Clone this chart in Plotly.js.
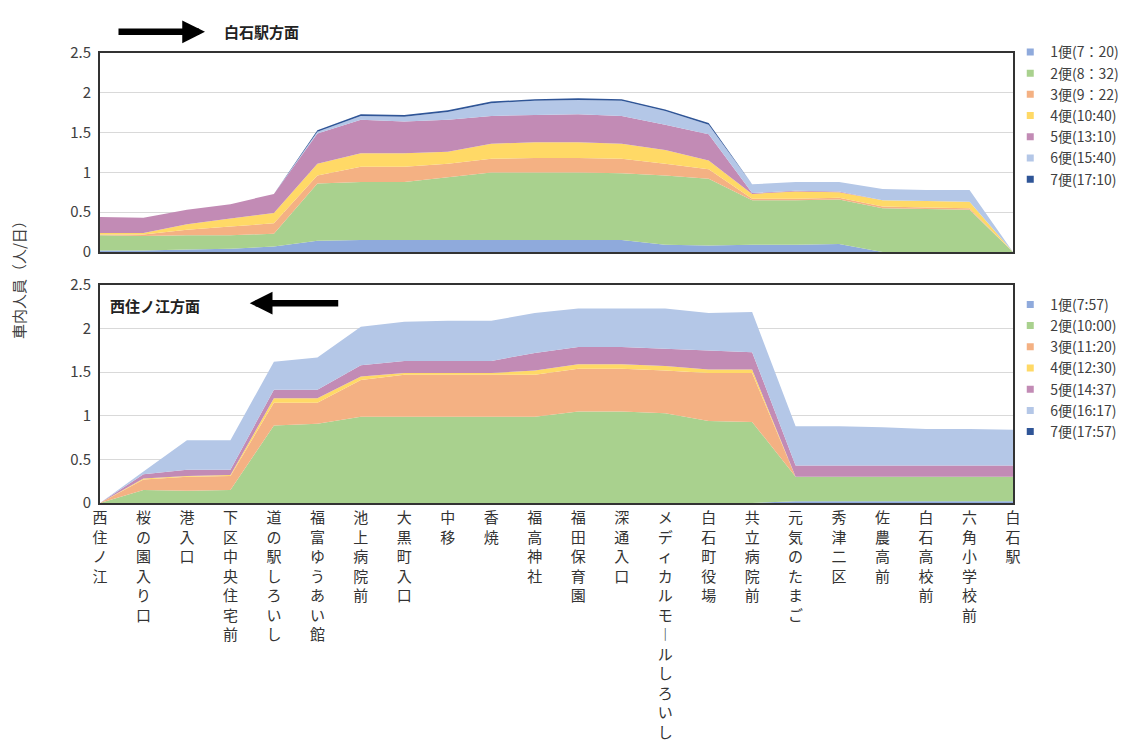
<!DOCTYPE html>
<html><head><meta charset="utf-8">
<script src="https://cdn.plot.ly/plotly-3.0.1.min.js"></script>
<style>body{margin:0;background:#fff}</style>
</head><body><div id="chart" style="width:1144px;height:756px"></div>
<script>
// Bus stops (categories)
const stops = ['西住ノ江','桜の園入り口','港入口','下区中央住宅前','道の駅しろいし','福富ゆうあい館','池上病院前','大黒町入口','中移','香焼','福高神社','福田保育園','深通入口','メディカルモールしろいし','白石町役場','共立病院前','元気のたまご','秀津二区','佐農高前','白石高校前','六角小学校前','白石駅'];

// Upper panel: 白石駅方面
const upNames = ['1便(7：20)','2便(8：32)','3便(9：22)','4便(10:40)','5便(13:10)','6便(15:40)','7便(17:10)'];
const up1 = [0.02,0.02,0.03,0.04,0.07,0.14,0.15,0.15,0.15,0.15,0.15,0.15,0.15,0.09,0.08,0.09,0.09,0.10,0,0,0,0];
const up2 = [0.19,0.18,0.18,0.17,0.16,0.72,0.73,0.73,0.79,0.85,0.85,0.85,0.84,0.87,0.84,0.56,0.56,0.56,0.55,0.54,0.53,0];
const up3 = [0.01,0.02,0.07,0.11,0.13,0.10,0.19,0.19,0.17,0.17,0.18,0.18,0.18,0.15,0.12,0.02,0.02,0.02,0.02,0.02,0.02,0];
const up4 = [0.02,0.02,0.07,0.10,0.13,0.15,0.17,0.17,0.15,0.19,0.20,0.20,0.19,0.17,0.11,0.06,0.09,0.07,0.08,0.08,0.08,0];
const up5 = [0.20,0.19,0.18,0.18,0.24,0.38,0.42,0.40,0.40,0.35,0.34,0.35,0.35,0.32,0.33,0.01,0.01,0.01,0,0,0,0];
const up6 = [0,0,0,0,0,0.02,0.05,0.06,0.10,0.16,0.18,0.18,0.19,0.17,0.12,0.11,0.11,0.12,0.14,0.14,0.15,0];
const up7 = [0,0,0,0,0,0.02,0.02,0.02,0.02,0.02,0.02,0.02,0.02,0.02,0.02,0,0,0,0,0,0,0];

// Lower panel: 西住ノ江方面
const dnNames = ['1便(7:57)','2便(10:00)','3便(11:20)','4便(12:30)','5便(14:37)','6便(16:17)','7便(17:57)'];
const dn1 = [0,0,0,0,0,0,0,0,0,0,0,0,0,0,0,0,0.02,0.02,0.02,0.02,0.02,0.02];
const dn2 = [0,0.15,0.14,0.15,0.89,0.91,0.99,0.99,0.99,0.99,0.99,1.05,1.05,1.03,0.94,0.93,0.28,0.28,0.28,0.28,0.28,0.28];
const dn3 = [0,0.12,0.16,0.16,0.26,0.24,0.42,0.48,0.48,0.48,0.48,0.49,0.49,0.49,0.55,0.56,0,0,0,0,0,0];
const dn4 = [0,0.01,0.01,0.01,0.05,0.05,0.04,0.02,0.02,0.02,0.05,0.05,0.05,0.05,0.04,0.04,0,0,0,0,0,0];
const dn5 = [0,0.05,0.07,0.06,0.10,0.10,0.13,0.14,0.14,0.14,0.20,0.20,0.20,0.20,0.22,0.20,0.13,0.13,0.13,0.13,0.13,0.13];
const dn6 = [0,0.03,0.34,0.34,0.32,0.37,0.44,0.45,0.46,0.46,0.46,0.44,0.44,0.46,0.43,0.46,0.45,0.45,0.44,0.42,0.42,0.41];
const dn7 = [0,0,0,0,0,0,0,0,0,0,0,0,0,0,0,0,0,0,0,0,0,0];

const yTicks = [0,0.5,1,1.5,2,2.5];
const colors = ['#8FAADC','#A9D18E','#F4B183','#FFD966','#C28BB5','#B4C7E7','#2F5597'];
const FONT = '"Noto Sans CJK JP", "Noto Sans", sans-serif';

const idx = stops.map((_, i) => i);
const upSeries = [up1,up2,up3,up4,up5,up6,up7];
const dnSeries = [dn1,dn2,dn3,dn4,dn5,dn6,dn7];

const traces = [];
upSeries.forEach((s, k) => {
  traces.push({x: idx, y: s, xaxis: 'x2', yaxis: 'y2', stackgroup: 'up', mode: 'none',
    fillcolor: colors[k], showlegend: false, hoverinfo: 'skip'});
});
dnSeries.forEach((s, k) => {
  traces.push({x: idx, y: s, xaxis: 'x', yaxis: 'y', stackgroup: 'dn', mode: 'none',
    fillcolor: colors[k], showlegend: false, hoverinfo: 'skip'});
});
// legend entries (square swatches)
upNames.forEach((n, k) => {
  traces.push({x: [null], y: [null], xaxis: 'x2', yaxis: 'y2', mode: 'markers', name: n,
    marker: {symbol: 'square', size: 7, color: colors[k]}, legend: 'legend'});
});
dnNames.forEach((n, k) => {
  traces.push({x: [null], y: [null], xaxis: 'x', yaxis: 'y', mode: 'markers', name: n,
    marker: {symbol: 'square', size: 7, color: colors[k]}, legend: 'legend2'});
});

const tickText = stops.map(s => Array.from(s.replace(/ー/g, '︱')).join('<br>'));

const yAxisCommon = {
  range: [0, 2.5], tickvals: yTicks, ticktext: yTicks.map(v => String(v)),
  showgrid: true, gridcolor: '#D9D9D9', gridwidth: 1,
  zeroline: false, showline: true, mirror: true, linecolor: '#333', linewidth: 2,
  ticks: '', tickfont: {family: FONT, size: 15, color: '#404040'}, ticklabelstandoff: 4
};

const legendCommon = {x: 0.997, xanchor: 'left', yanchor: 'top', traceorder: 'normal',
  font: {family: FONT, size: 14, color: '#404040'}, bgcolor: 'rgba(0,0,0,0)',
  itemwidth: 30, tracegroupgap: 0};

const layout = {
  width: 1144, height: 756,
  margin: {l: 100, r: 131, t: 53, b: 253},
  paper_bgcolor: '#fff', plot_bgcolor: '#fff',
  font: {family: FONT, color: '#333'},
  xaxis: {domain: [0, 1], anchor: 'y', range: [0, 21], tickvals: idx, ticktext: tickText,
    tickangle: 0, showgrid: false, zeroline: false, showline: true, mirror: true,
    linecolor: '#333', linewidth: 2, ticks: '',
    tickfont: {family: FONT, size: 15, color: '#333'}},
  yaxis: Object.assign({domain: [0, 0.4844], anchor: 'x'}, yAxisCommon),
  xaxis2: {domain: [0, 1], anchor: 'y2', range: [0, 21], showticklabels: false,
    showgrid: false, zeroline: false, showline: true, mirror: true,
    linecolor: '#333', linewidth: 2, ticks: ''},
  yaxis2: Object.assign({domain: [0.5578, 1], anchor: 'x2'}, yAxisCommon),
  legend: Object.assign({y: 1.037}, legendCommon),
  legend2: Object.assign({y: 0.476}, legendCommon),
  annotations: [
    {xref: 'paper', yref: 'paper', x: 0.115, y: 1.047, ax: -88, ay: 0, axref: 'pixel', ayref: 'pixel',
      text: '', showarrow: true, arrowhead: 2, arrowsize: 0.7, arrowwidth: 6.5, arrowcolor: '#000'},
    {xref: 'paper', yref: 'paper', x: 0.134, y: 1.047, xanchor: 'left', yanchor: 'middle',
      text: '<b>白石駅方面</b>', showarrow: false, font: {family: FONT, size: 15, color: '#222'}},
    {xref: 'paper', yref: 'paper', x: 0.0088, y: 0.44, xanchor: 'left', yanchor: 'middle',
      text: '<b>西住ノ江方面</b>', showarrow: false, font: {family: FONT, size: 15, color: '#222'}},
    {xref: 'paper', yref: 'paper', x: 0.164, y: 0.444, ax: 90, ay: 0, axref: 'pixel', ayref: 'pixel',
      text: '', showarrow: true, arrowhead: 2, arrowsize: 0.7, arrowwidth: 6.5, arrowcolor: '#000'},
    {xref: 'paper', yref: 'paper', x: -0.09, y: 0.504, xanchor: 'center', yanchor: 'middle',
      text: '車内人員（人/日）', textangle: -90, showarrow: false,
      font: {family: FONT, size: 15, color: '#404040'}}
  ]
};

Plotly.newPlot('chart', traces, layout, {displayModeBar: false, staticPlot: true});
</script>
</body></html>
